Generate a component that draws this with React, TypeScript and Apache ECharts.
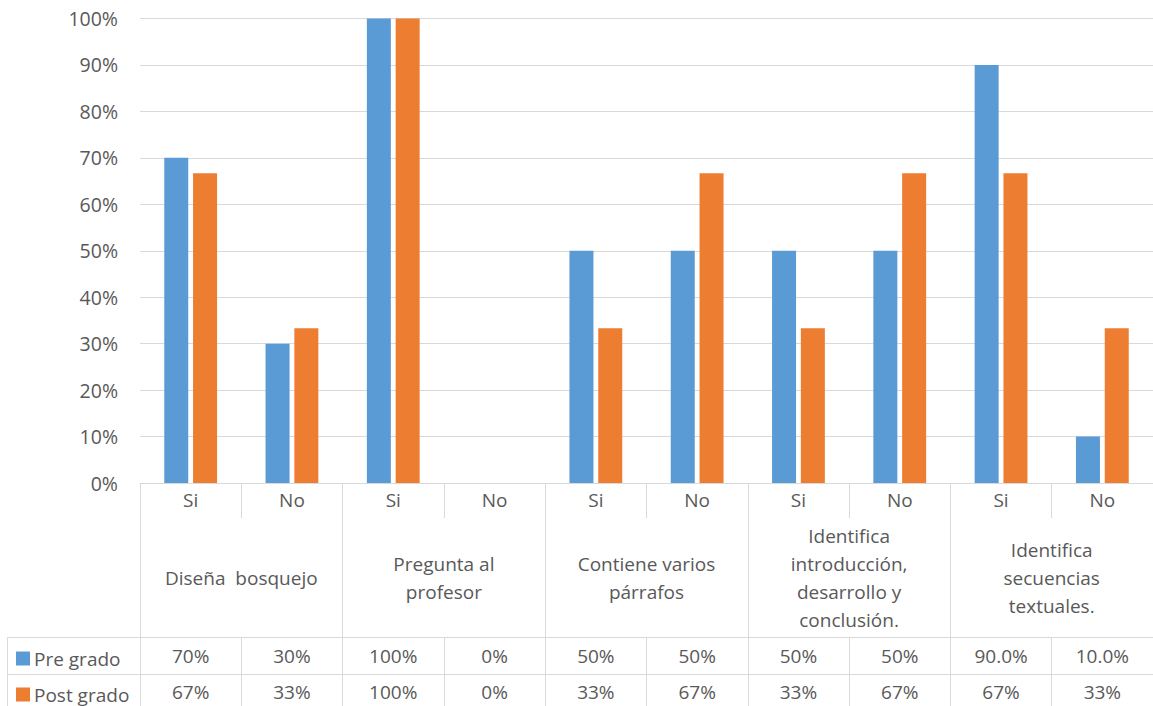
import React, { useEffect, useRef } from "react";
import * as echarts from "echarts";

const subCategories = ["Si", "No", "Si", "No", "Si", "No", "Si", "No", "Si", "No"];
const groups = [
  "Diseña  bosquejo",
  "Pregunta al\nprofesor",
  "Contiene varios\npárrafos",
  "Identifica\nintroducción,\ndesarrollo y\nconclusión.",
  "Identifica\nsecuencias\ntextuales.",
];
const preGrado = [70, 30, 100, 0, 50, 50, 50, 50, 90, 10];
const postGrado = [66.7, 33.3, 100, 0, 33.3, 66.7, 33.3, 66.7, 66.7, 33.3];
const preLabels = ["70%", "30%", "100%", "0%", "50%", "50%", "50%", "50%", "90.0%", "10.0%"];
const postLabels = ["67%", "33%", "100%", "0%", "33%", "67%", "33%", "67%", "67%", "33%"];
const yTicks = [0, 10, 20, 30, 40, 50, 60, 70, 80, 90, 100];

const FONT = "Open Sans";
const TXT = "#595959";
const LINE = "#D9D9D9";
const BLUE = "#5B9BD5";
const ORANGE = "#ED7D31";

export default function App() {
  const ref = useRef<HTMLDivElement>(null);
  useEffect(() => {
    if (!ref.current) return;
    const chart = echarts.init(ref.current, null, { renderer: "svg" });
    const labelStyle = { color: TXT, fontFamily: FONT, fontSize: 19 };
    chart.setOption({
      animation: false,
      textStyle: { fontFamily: FONT },
      grid: { left: 140, top: 18.5, bottom: 223, right: -5, containLabel: false },
      legend: [
        {
          data: ["Pre grado"],
          left: 16,
          top: 649,
          padding: 0,
          itemWidth: 14,
          itemHeight: 14,
          itemGap: 0,
          icon: "rect",
          textStyle: { ...labelStyle, padding: [0, 0, 0, -1] },
        },
        {
          data: ["Post grado"],
          left: 16,
          top: 685,
          padding: 0,
          itemWidth: 14,
          itemHeight: 14,
          itemGap: 0,
          icon: "rect",
          textStyle: { ...labelStyle, padding: [0, 0, 0, -1] },
        },
      ],
      yAxis: {
        type: "value",
        min: yTicks[0],
        max: yTicks[yTicks.length - 1],
        interval: 10,
        axisLabel: { formatter: "{value}%", margin: 22, ...labelStyle, fontSize: 19.5 },
        splitLine: { lineStyle: { color: LINE, width: 1 } },
        axisLine: { show: false },
        axisTick: { show: false },
      },
      xAxis: [
        {
          type: "category",
          data: subCategories,
          position: "bottom",
          axisLine: { lineStyle: { color: LINE, width: 1 } },
          axisTick: { show: true, interval: 0, length: 35, lineStyle: { color: LINE } },
          axisLabel: { interval: 0, margin: 17, verticalAlign: "middle", ...labelStyle },
        },
        {
          type: "category",
          data: groups,
          position: "bottom",
          offset: 0,
          axisLine: { show: false },
          axisTick: { show: true, interval: 0, length: 223, lineStyle: { color: LINE } },
          axisLabel: {
            interval: 0,
            margin: 95,
            verticalAlign: "middle",
            lineHeight: 28,
            ...labelStyle,
          },
        },
        {
          type: "category",
          data: preLabels,
          position: "bottom",
          offset: 154,
          axisLine: { show: true, lineStyle: { color: LINE, width: 1 } },
          axisTick: { show: true, interval: 0, length: 69, lineStyle: { color: LINE } },
          axisLabel: { interval: 0, margin: 19, verticalAlign: "middle", ...labelStyle },
        },
        {
          type: "category",
          data: postLabels,
          position: "bottom",
          offset: 191,
          axisLine: { show: true, lineStyle: { color: LINE, width: 1 } },
          axisTick: { show: true, interval: 0, length: 32, lineStyle: { color: LINE } },
          axisLabel: { interval: 0, margin: 18, verticalAlign: "middle", ...labelStyle },
        },
      ],
      series: [
        {
          name: "Pre grado",
          type: "bar",
          xAxisIndex: 0,
          data: preGrado,
          barWidth: 24,
          barGap: "20%",
          itemStyle: { color: BLUE },
        },
        {
          name: "Post grado",
          type: "bar",
          xAxisIndex: 0,
          data: postGrado,
          barWidth: 24,
          barGap: "20%",
          itemStyle: { color: ORANGE },
        },
      ],
      graphic: [
        { type: "line", shape: { x1: 7, y1: 637.5, x2: 140, y2: 637.5 }, style: { stroke: LINE, lineWidth: 1 } },
        { type: "line", shape: { x1: 7, y1: 674.5, x2: 140, y2: 674.5 }, style: { stroke: LINE, lineWidth: 1 } },
        { type: "line", shape: { x1: 7.5, y1: 637, x2: 7.5, y2: 706 }, style: { stroke: LINE, lineWidth: 1 } },
      ],
    });
    return () => chart.dispose();
  }, []);
  return (
    <div
      ref={ref}
      style={{ position: "fixed", left: 0, top: 0, width: 1153, height: 706, background: "#fff" }}
    />
  );
}
